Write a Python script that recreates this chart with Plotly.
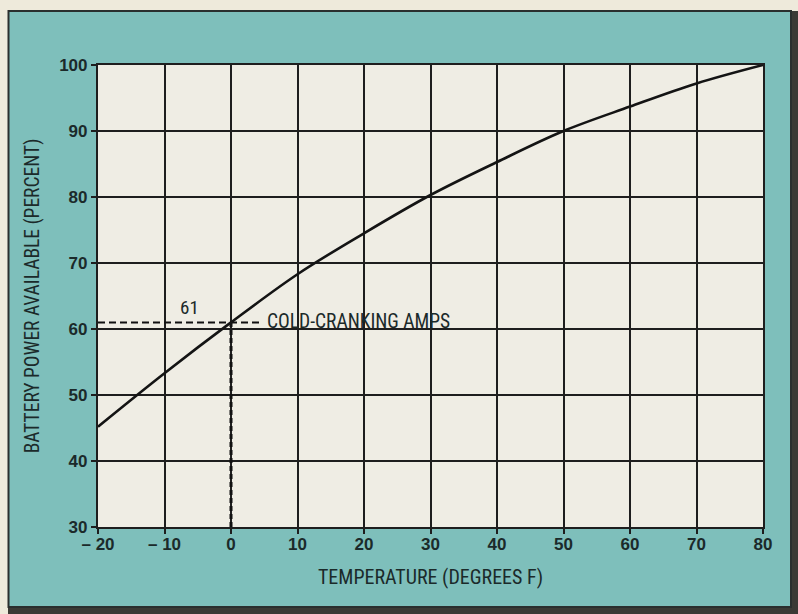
import plotly.graph_objects as go

# Battery power available vs. temperature
temperature_f = [-20, -10, 0, 10, 20, 30, 40, 50, 60, 70, 80]
power_pct = [45.2, 53.3, 61, 68.3, 74.5, 80.3, 85.3, 90, 93.7, 97.2, 100]

x_ticks = [-20, -10, 0, 10, 20, 30, 40, 50, 60, 70, 80]
x_tick_text = ["\u2013 20", "\u2013 10", "0", "10", "20", "30", "40", "50", "60", "70", "80"]
y_ticks = [30, 40, 50, 60, 70, 80, 90, 100]

cca_temp = 0
cca_power = 61
cca_dash_end = 4.4

TEAL = "#7ebfbb"
CREAM = "#eeeadb"
PLOT_BG = "#efede4"
INK = "#1b2a2a"
DARK = "#3b3a35"
NARROW = "Liberation Sans Narrow, Roboto Condensed, Arial Narrow, sans-serif"
TICK_FONT = "Liberation Sans, Arial, sans-serif"

W, H = 798, 614
L, R, T, B = 98, 35, 65, 87
pw, ph = W - L - R, H - T - B


def px_x(p):
    return (p - L) / pw


def px_y(p):
    return (H - B - p) / ph


fig = go.Figure()

# dashed reference lines for the cold-cranking rating
fig.add_trace(go.Scatter(
    x=[-20, cca_dash_end], y=[cca_power, cca_power], mode="lines",
    line=dict(color="#111", width=2, dash="7px,4px"), hoverinfo="skip"))
fig.add_trace(go.Scatter(
    x=[cca_temp, cca_temp], y=[30, cca_power], mode="lines",
    line=dict(color="#111", width=3, dash="5px,3px"), hoverinfo="skip"))

fig.add_trace(go.Scatter(
    x=temperature_f, y=power_pct, mode="lines",
    line=dict(color="#141414", width=2.6, shape="spline", smoothing=1.0),
    hoverinfo="skip"))

fig.add_annotation(x=-6.3, y=cca_power, text=str(cca_power), showarrow=False,
                   xanchor="center", yanchor="bottom", yshift=1,
                   font=dict(family=NARROW, size=19, color=INK))
fig.add_annotation(x=cca_dash_end + 0.7, y=cca_power, text="COLD-CRANKING AMPS",
                   showarrow=False, xanchor="left", yanchor="middle", yshift=1,
                   font=dict(family=NARROW, size=19.5, color=INK))

shapes = [
    # cream page strips
    dict(type="rect", xref="paper", yref="paper", x0=px_x(0), x1=px_x(W),
         y0=px_y(11), y1=px_y(0), fillcolor=CREAM, line=dict(width=0), layer="below"),
    dict(type="rect", xref="paper", yref="paper", x0=px_x(0), x1=px_x(8),
         y0=px_y(H), y1=px_y(0), fillcolor=CREAM, line=dict(width=0), layer="below"),
    # dark shadow on right and bottom
    dict(type="rect", xref="paper", yref="paper", x0=px_x(791), x1=px_x(W),
         y0=px_y(H), y1=px_y(11), fillcolor=DARK, line=dict(width=0), layer="below"),
    dict(type="rect", xref="paper", yref="paper", x0=px_x(8), x1=px_x(W),
         y0=px_y(H), y1=px_y(607), fillcolor=DARK, line=dict(width=0), layer="below"),
    # panel outline
    dict(type="rect", xref="paper", yref="paper", x0=px_x(8.5), x1=px_x(791),
         y0=px_y(607), y1=px_y(11), line=dict(color="#2a2f2e", width=2), layer="below"),
]

fig.update_layout(
    width=W, height=H,
    margin=dict(l=L, r=R, t=T, b=B),
    paper_bgcolor=TEAL, plot_bgcolor=PLOT_BG,
    showlegend=False,
    shapes=shapes,
    font=dict(family=NARROW, color=INK),
)

axis_common = dict(
    showgrid=True, gridcolor="#1e1e1e", gridwidth=1.6,
    showline=True, linecolor="#1e1e1e", linewidth=2.2, mirror=True,
    ticks="outside", ticklen=5, tickcolor="#1e1e1e", tickwidth=1.5,
    zeroline=False,
    tickfont=dict(family=TICK_FONT, size=17, color=INK, weight="bold"),
)

fig.update_xaxes(range=[-20, 80], tickvals=x_ticks, ticktext=x_tick_text,
                 ticklabelstandoff=-5,
                 title=dict(text="TEMPERATURE (DEGREES F)", standoff=17,
                            font=dict(family=NARROW, size=20, color=INK)),
                 **axis_common)
fig.update_yaxes(range=[30, 100], tickvals=y_ticks,
                 title=dict(text="BATTERY POWER AVAILABLE (PERCENT)", standoff=14,
                            font=dict(family=NARROW, size=19.5, color=INK)),
                 **axis_common)

fig.write_html("out.html")
